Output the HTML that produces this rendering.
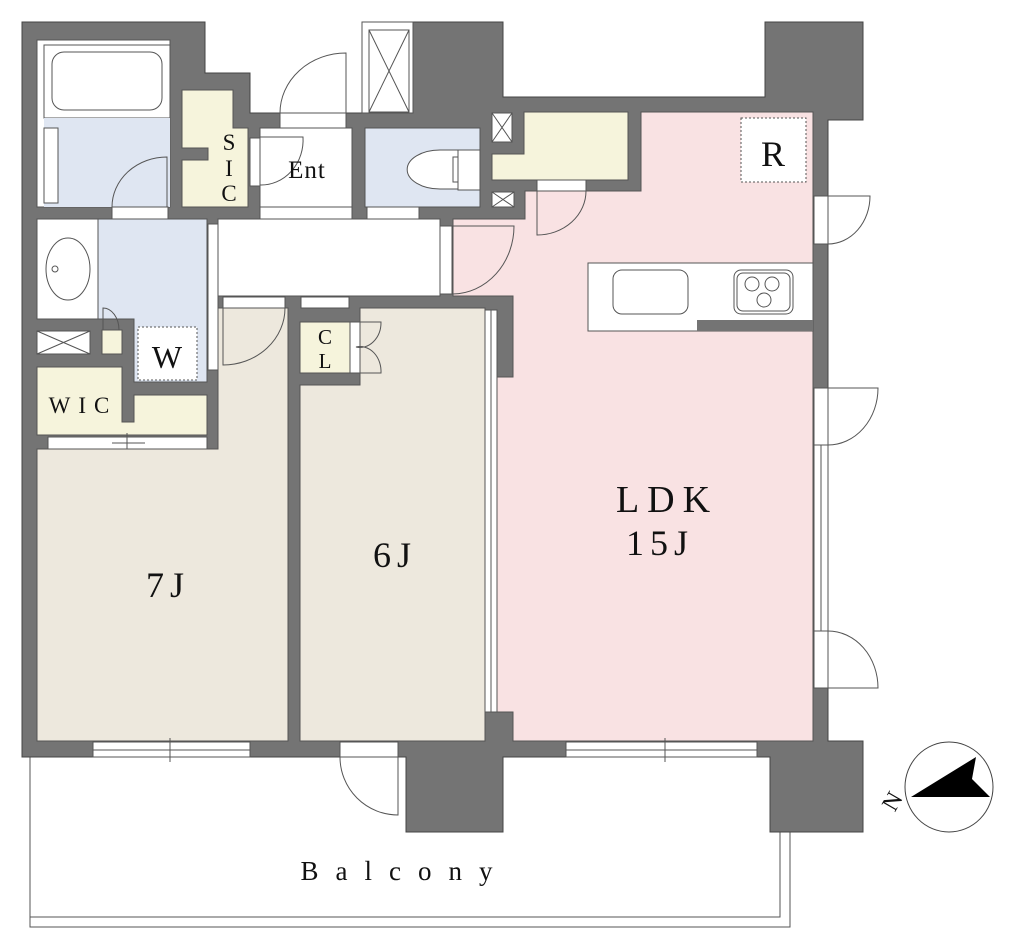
<!DOCTYPE html>
<html><head><meta charset="utf-8"><style>
html,body{margin:0;padding:0;background:#fff;}
svg{display:block;}
text{font-family:"Liberation Serif",serif;fill:#111;}
</style></head><body>
<svg width="1024" height="933" viewBox="0 0 1024 933" xmlns="http://www.w3.org/2000/svg">
<rect x="30" y="757" width="750" height="160" fill="#fff" stroke="#555" stroke-width="1"/>
<path d="M30 917 L30 927 L790 927 L790 757" fill="none" stroke="#555" stroke-width="1"/>
<polygon points="22,22 205,22 205,73 250,73 250,113 362,113 362,22 413,22 503,22 503,97 765,97 765,22 863,22 863,120 828,120 828,741 863,741 863,832 770,832 770,757 503,757 503,832 406,832 406,757 22,757" fill="#747474" stroke="#444" stroke-width="1"/>
<rect x="362" y="22" width="51" height="91" fill="#fff" stroke="#555"/>
<rect x="369" y="30" width="40" height="82" fill="#fff" stroke="#555"/>
<path d="M369 30 L409 112 M409 30 L369 112" stroke="#555"/>
<rect x="37" y="40" width="133" height="167" fill="#fff" stroke="#555"/>
<rect x="44" y="45" width="126" height="73" fill="#fff" stroke="#555"/>
<rect x="52" y="52" width="110" height="58" rx="12" fill="#fff" stroke="#555"/>
<rect x="44" y="118" width="126" height="89" fill="#dfe6f2"/>
<rect x="44" y="128" width="14" height="75" fill="#fff" stroke="#555"/>
<path d="M112 207 A55 50 0 0 1 167 157 L167 207" fill="none" stroke="#555"/>
<rect x="112" y="207" width="56" height="12" fill="#fff" stroke="#555"/>
<polygon points="182,90 233,90 233,128 248,128 248,207 182,207 182,160 208,160 208,148 182,148" fill="#f6f4dc" stroke="#555"/>
<text x="229" y="150" font-size="23" text-anchor="middle">S</text>
<text x="229" y="176" font-size="23" text-anchor="middle">I</text>
<text x="229" y="201" font-size="23" text-anchor="middle">C</text>
<rect x="260" y="128" width="92" height="79" fill="#fff" stroke="#555"/>
<rect x="250" y="138" width="10" height="48" fill="#fff" stroke="#555"/>
<path d="M260 185 A42 45 0 0 0 303 137 L260 137" fill="none" stroke="#555"/>
<rect x="280" y="113" width="66" height="15" fill="#fff" stroke="#555"/>
<path d="M280 113 A66 60 0 0 1 346 53 L346 113" fill="none" stroke="#555"/>
<text x="307" y="178" font-size="25" text-anchor="middle" letter-spacing="1">Ent</text>
<rect x="260" y="207" width="92" height="12" fill="#fff" stroke="#555"/>
<rect x="365" y="128" width="115" height="79" fill="#dfe6f2" stroke="#555"/>
<path d="M480 150 L440 150 A32 19 0 0 0 440 189 L480 189" fill="#fff" stroke="#555"/>
<rect x="458" y="150" width="22" height="40" fill="#fff" stroke="#555"/>
<rect x="453" y="157" width="5" height="25" fill="#fff" stroke="#555"/>
<rect x="367" y="207" width="52" height="12" fill="#fff" stroke="#555"/>
<path d="M367 219 L367 265 A52 48 0 0 0 419 219" fill="none" stroke="#555"/>
<rect x="492" y="113" width="20" height="29" fill="#fff" stroke="#555"/>
<path d="M492 113 L512 142 M512 113 L492 142" stroke="#555"/>
<rect x="492" y="192" width="22" height="15" fill="#fff" stroke="#555"/>
<path d="M492 192 L514 207 M514 192 L492 207" stroke="#555"/>
<polygon points="524,112 628,112 628,180 492,180 492,154 524,154" fill="#f6f4dc" stroke="#555"/>
<rect x="537" y="180" width="49" height="11" fill="#fff" stroke="#555"/>
<rect x="218" y="219" width="222" height="77" fill="#fff" stroke="#555"/>
<rect x="440" y="226" width="12" height="68" fill="#fff" stroke="#555"/>
<polygon points="641,112 813,112 813,741 513,741 513,712 497,712 497,377 513,377 513,296 453,296 453,219 525,219 525,191 641,191" fill="#f9e2e3" stroke="#555"/>
<path d="M537 191 L537 235 A49 44 0 0 0 586 191" fill="none" stroke="#555"/>
<path d="M453 294 A62 68 0 0 0 514 226 L453 226" fill="none" stroke="#555"/>
<rect x="741" y="118" width="65" height="64" fill="#fff" stroke="#555" stroke-dasharray="2,2"/>
<text x="773" y="166" font-size="36" text-anchor="middle">R</text>
<rect x="588" y="263" width="225" height="68" fill="#fff" stroke="#555"/>
<rect x="697" y="320" width="116" height="11" fill="#747474"/>
<rect x="613" y="270" width="75" height="44" rx="9" fill="#fff" stroke="#555"/>
<rect x="734" y="270" width="59" height="44" rx="7" fill="#fff" stroke="#555"/>
<rect x="737" y="273" width="53" height="38" rx="6" fill="none" stroke="#555"/>
<circle cx="752" cy="284" r="7" fill="none" stroke="#555"/>
<circle cx="772" cy="284" r="7" fill="none" stroke="#555"/>
<circle cx="764" cy="300" r="7" fill="none" stroke="#555"/>
<rect x="814" y="196" width="14" height="48" fill="#fff" stroke="#555"/>
<path d="M828 244 A42 48 0 0 0 870 196 L828 196" fill="none" stroke="#555"/>
<rect x="814" y="388" width="14" height="57" fill="#fff" stroke="#555"/>
<path d="M828 445 A50 57 0 0 0 878 388 L828 388" fill="none" stroke="#555"/>
<rect x="814" y="445" width="14" height="186" fill="#fff" stroke="#555"/>
<line x1="821" y1="445" x2="821" y2="631" stroke="#555"/>
<rect x="814" y="631" width="14" height="57" fill="#fff" stroke="#555"/>
<path d="M828 631 A50 57 0 0 1 878 688 L828 688" fill="none" stroke="#555"/>
<text x="667" y="512" font-size="38" text-anchor="middle" letter-spacing="8">LDK</text>
<text x="660" y="555" font-size="36" text-anchor="middle" letter-spacing="6">15J</text>
<rect x="37" y="219" width="61" height="100" fill="#fff" stroke="#555"/>
<ellipse cx="68" cy="269" rx="22" ry="31" fill="#fff" stroke="#555"/>
<circle cx="55" cy="269" r="3" fill="#fff" stroke="#555"/>
<polygon points="98,219 207,219 207,382 134,382 134,319 98,319" fill="#dfe6f2" stroke="#555"/>
<rect x="138" y="327" width="59" height="53" fill="#fff" stroke="#555" stroke-dasharray="2,2"/>
<text x="167" y="368" font-size="32" text-anchor="middle">W</text>
<rect x="208" y="224" width="10" height="146" fill="#fff" stroke="#555"/>
<rect x="37" y="331" width="53" height="23" fill="#fff" stroke="#555"/>
<path d="M37 331 L90 354 M90 331 L37 354" stroke="#555"/>
<rect x="102" y="330" width="20" height="24" fill="#f6f4dc" stroke="#555"/>
<path d="M103 330 L103 308 A16 22 0 0 1 119 330" fill="none" stroke="#555"/>
<polygon points="37,367 122,367 122,422 134,422 134,395 207,395 207,435 37,435" fill="#f6f4dc" stroke="#555"/>
<text x="83" y="413" font-size="23" text-anchor="middle" letter-spacing="8">WIC</text>
<rect x="48" y="437" width="159" height="12" fill="#fff" stroke="#555"/>
<line x1="112" y1="443" x2="145" y2="443" stroke="#555"/>
<line x1="127" y1="433" x2="127" y2="455" stroke="#555"/>
<polygon points="218,308 288,308 288,741 37,741 37,449 218,449" fill="#ede8dd" stroke="#555"/>
<rect x="223" y="297" width="62" height="11" fill="#fff" stroke="#555"/>
<path d="M223 308 L223 365 A62 57 0 0 0 285 308" fill="none" stroke="#555"/>
<text x="168" y="597" font-size="36" text-anchor="middle" letter-spacing="6">7J</text>
<rect x="93" y="742" width="157" height="15" fill="#fff" stroke="#555"/>
<line x1="93" y1="750" x2="250" y2="750" stroke="#555"/>
<line x1="170" y1="738" x2="170" y2="762" stroke="#555"/>
<polygon points="360,308 485,308 485,741 300,741 300,385 360,385" fill="#ede8dd" stroke="#555"/>
<rect x="301" y="297" width="48" height="11" fill="#fff" stroke="#555"/>
<rect x="300" y="322" width="50" height="51" fill="#f6f4dc" stroke="#555"/>
<text x="325" y="344" font-size="21" text-anchor="middle">C</text>
<text x="325" y="368" font-size="21" text-anchor="middle">L</text>
<rect x="350" y="322" width="10" height="51" fill="#fff" stroke="#555"/>
<path d="M360 322 L381 322 A21 25 0 0 1 356 347 A21 25 0 0 1 381 373 L360 373" fill="none" stroke="#555"/>
<rect x="485" y="310" width="12" height="402" fill="#fff" stroke="#555"/>
<line x1="491" y1="310" x2="491" y2="712" stroke="#555"/>
<text x="395" y="567" font-size="36" text-anchor="middle" letter-spacing="6">6J</text>
<rect x="340" y="742" width="58" height="15" fill="#fff" stroke="#555"/>
<path d="M340 757 A58 58 0 0 0 398 815 L398 757" fill="none" stroke="#555"/>
<rect x="566" y="742" width="191" height="15" fill="#fff" stroke="#555"/>
<line x1="566" y1="750" x2="757" y2="750" stroke="#555"/>
<line x1="665" y1="738" x2="665" y2="762" stroke="#555"/>
<text x="405" y="880" font-size="27" text-anchor="middle" letter-spacing="17">Balcony</text>
<ellipse cx="949" cy="787" rx="44" ry="45" fill="#fff" stroke="#444"/>
<polygon points="911,797 976,757 972,779 990,797" fill="#000"/>
<text x="884" y="812" font-size="24" transform="rotate(-60 890 803)">N</text>
</svg>
</body></html>
